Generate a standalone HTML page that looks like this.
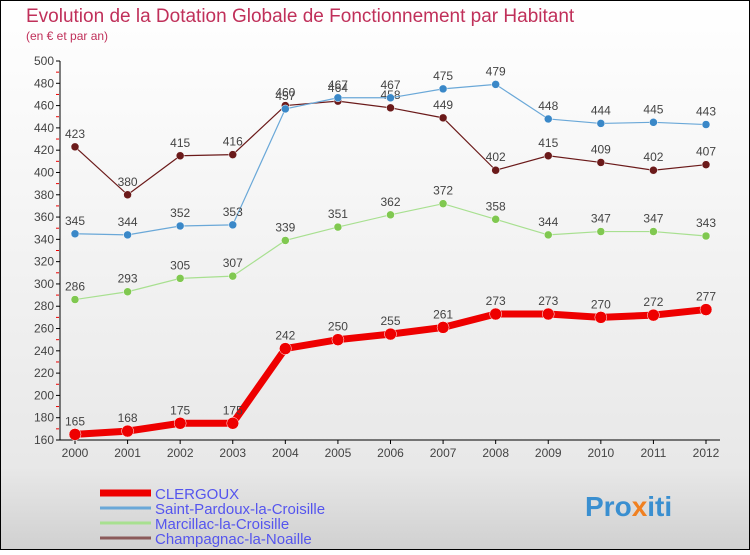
<!DOCTYPE html>
<html><head><meta charset="utf-8"><style>
body{margin:0;width:750px;height:550px;overflow:hidden;font-family:"Liberation Sans",sans-serif}
</style></head><body>
<svg width="750" height="550" xmlns="http://www.w3.org/2000/svg">
<defs><linearGradient id="bg" x1="0" y1="0" x2="0" y2="1"><stop offset="0" stop-color="#ffffff"/><stop offset="0.85" stop-color="#e8e8e8"/><stop offset="1" stop-color="#d0d0d0"/></linearGradient></defs>
<rect x="0.5" y="0.5" width="749" height="549" fill="url(#bg)" stroke="#000"/>
<text x="26" y="22" font-size="19" fill="#c0305a">Evolution de la Dotation Globale de Fonctionnement par Habitant</text>
<text x="26" y="40" font-size="12" fill="#c0305a">(en € et par an)</text>
<g id="axes"></g><g id="series"></g><g id="legend"></g>
<text x="585" y="516" font-size="28" font-weight="bold" fill="#3a8fd0">Pro<tspan fill="#f08020">x</tspan>iti</text>
</svg>
<script>
const years=[2000,2001,2002,2003,2004,2005,2006,2007,2008,2009,2010,2011,2012];
const yTicks=[160,180,200,220,240,260,280,300,320,340,360,380,400,420,440,460,480,500];
const clergoux=[165,168,175,175,242,250,255,261,273,273,270,272,277];
const saintPardoux=[345,344,352,353,457,467,467,475,479,448,444,445,443];
const marcillac=[286,293,305,307,339,351,362,372,358,344,347,347,343];
const champagnac=[423,380,415,416,460,464,458,449,402,415,409,402,407];
const names=["CLERGOUX","Saint-Pardoux-la-Croisille","Marcillac-la-Croisille","Champagnac-la-Noaille"];
const NS="http://www.w3.org/2000/svg";
const x=i=>75+i*(706-75)/12;
const y=v=>440-(v-160)*(440-61)/340;
function mk(t,a,p){const e=document.createElementNS(NS,t);for(const k in a)e.setAttribute(k,a[k]);p.appendChild(e);return e;}
const ax=document.getElementById('axes');
let l=mk('line',{x1:60,y1:61,x2:60,y2:440,stroke:'#000'},ax);


l=mk('line',{x1:60,y1:440,x2:720,y2:440,stroke:'#000'},ax);


yTicks.forEach(v=>{mk('line',{x1:56,y1:y(v),x2:60,y2:y(v),stroke:'#000'},ax);
 if(v<500)mk('line',{x1:56,y1:y(v+10),x2:59,y2:y(v+10),stroke:'#e00'},ax);
 const t=mk('text',{x:54,y:y(v)+4,'font-size':12,fill:'#444','text-anchor':'end'},ax);t.textContent=v;
 
 });
years.forEach((yr,i)=>{mk('line',{x1:x(i),y1:440,x2:x(i),y2:444,stroke:'#000'},ax);
 const t=mk('text',{x:x(i),y:457,'font-size':12,fill:'#444','text-anchor':'middle'},ax);t.textContent=yr;
 
 });
const sg=document.getElementById('series');
const cfg=[[champagnac,'#6b1a1a','#6b1a1a',1.2,4,'champagnac'],[saintPardoux,'#6aa8d8','#3a88c8',1.2,4,'saint-pardoux'],[marcillac,'#a8e090','#80c850',1.2,4,'marcillac'],[clergoux,'#ee0000','#ee0000',7,6,'clergoux']];
cfg.forEach(([d,c,f,w,r,n])=>{
 const g=mk('g',{},sg);
 
 
 const p=mk('polyline',{points:d.map((v,i)=>x(i)+','+y(v)).join(' '),fill:'none',stroke:c,'stroke-width':w},g);
 
 
 d.forEach((v,i)=>{const pt=mk('circle',{cx:x(i),cy:y(v),r:r,fill:f,stroke:'#fff','stroke-width':0.5},g);
  
  
  const t=mk('text',{x:x(i),y:y(v)-9,'font-size':12,fill:'#444','text-anchor':'middle'},g);t.textContent=v;
  
  });
});
const lg=document.getElementById('legend');
const lc=['#ee0000','#6aa8d8','#a8e090','#8b5a5a'],lw=[7,3,3,3];
names.forEach((n,i)=>{const yy=493+i*15;
 const g=mk('g',{},lg);
 
 
 mk('line',{x1:100,y1:yy,x2:151,y2:yy,stroke:lc[i],'stroke-width':lw[i]},g);
 const t=mk('text',{x:155,y:yy+6,'font-size':15,fill:'#5555ee'},g);t.textContent=n;});
</script>
</body></html>
